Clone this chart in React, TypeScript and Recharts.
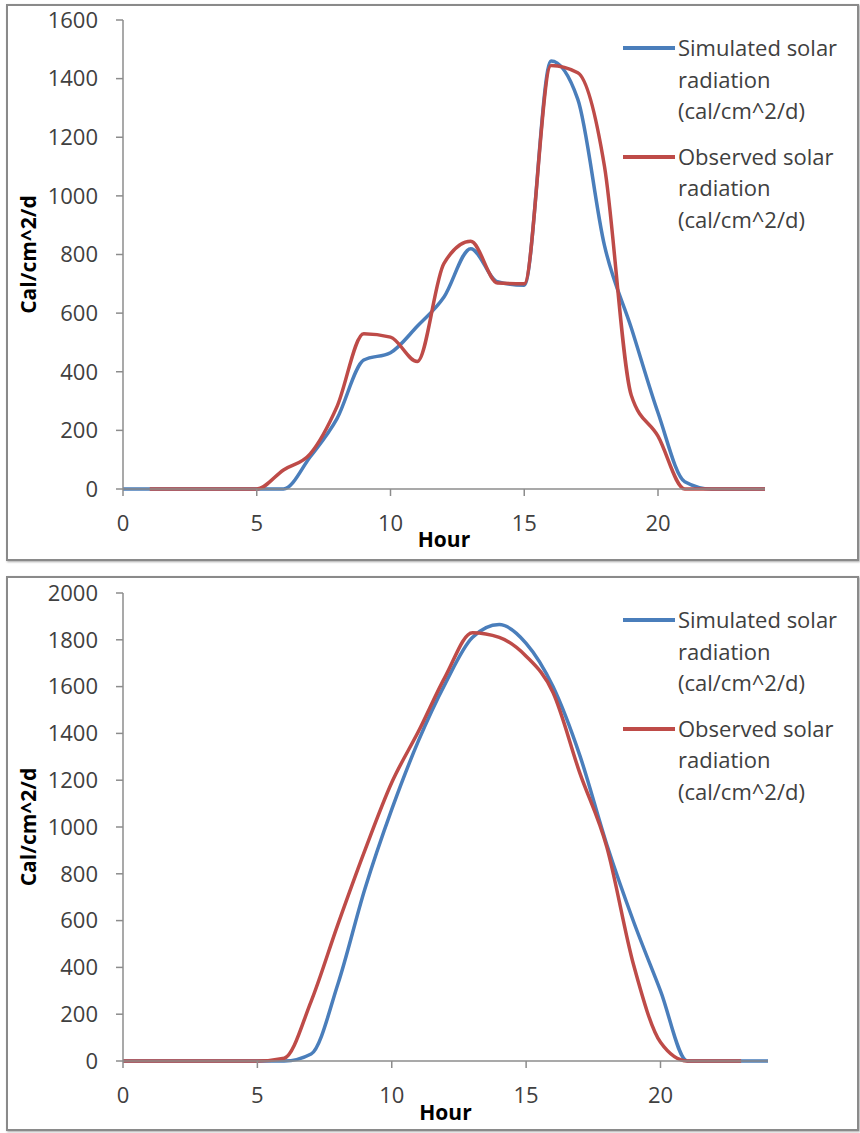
import React from 'react';
import { LineChart, Line, XAxis, YAxis, Legend } from 'recharts';

// Hours of the day
const HOURS = [0, 1, 2, 3, 4, 5, 6, 7, 8, 9, 10, 11, 12, 13, 14, 15, 16, 17, 18, 19, 20, 21, 22, 23, 24];

// Top chart (cal/cm^2/d)
const TOP_SIMULATED = [0, 0, 0, 0, 0, 0, 0, 110, 240, 440, 465, 555, 655, 820, 707, 695, 1460, 1330, 830, 550, 260, 25, 0, 0, 0];
const TOP_OBSERVED = [null, 0, 0, 0, 0, 0, 65, 120, 281, 530, 518, 435, 770, 845, 703, 700, 1445, 1420, 1100, 320, 180, 0, 0, 0, 0];

// Bottom chart (cal/cm^2/d)
const BOTTOM_SIMULATED = [0, 0, 0, 0, 0, 0, 0, 30, 330, 735, 1075, 1370, 1615, 1810, 1865, 1785, 1600, 1305, 925, 595, 300, 0, 0, 0, 0];
const BOTTOM_OBSERVED = [0, 0, 0, 0, 0, 0, 12, 255, 585, 900, 1190, 1410, 1645, 1830, 1810, 1730, 1575, 1230, 915, 410, 80, 0, 0, 0, null];

const X_TICKS = [0, 5, 10, 15, 20];
const TOP_Y_TICKS = [0, 200, 400, 600, 800, 1000, 1200, 1400, 1600];
const BOTTOM_Y_TICKS = [0, 200, 400, 600, 800, 1000, 1200, 1400, 1600, 1800, 2000];

const SERIES_NAMES = ['Simulated solar radiation (cal/cm^2/d)', 'Observed solar radiation (cal/cm^2/d)'];
const LEGEND_LINES = [
  ['Simulated solar', 'radiation', '(cal/cm^2/d)'],
  ['Observed solar', 'radiation', '(cal/cm^2/d)'],
];

const BLUE = '#4A7EBB';
const RED = '#BE4B48';
const TEXT = '#404040';
const AXIS = '#8C8C8C';
const FONT = '"Open Sans", "Noto Sans", sans-serif';

const buildRows = (sim: (number | null)[], obs: (number | null)[]) =>
  HOURS.map((h, i) => ({ h, sim: sim[i], obs: obs[i] }));

const LegendContent = () => (
  <div style={{ fontFamily: FONT, fontSize: 22, color: TEXT, lineHeight: '31.5px' }}>
    {LEGEND_LINES.map((lines, i) => (
      <div key={i} style={{ display: 'flex', alignItems: 'flex-start', marginBottom: i === 0 ? 14 : 0 }}>
        <svg width={55} height={31.5} style={{ flex: 'none' }}>
          <line x1={0} x2={52} y1={16} y2={16} stroke={i === 0 ? BLUE : RED} strokeWidth={4} />
        </svg>
        <div>
          {lines.map((t, j) => (
            <div key={j} style={{ whiteSpace: 'nowrap' }}>{t}</div>
          ))}
        </div>
      </div>
    ))}
  </div>
);

type PanelProps = {
  top: number;
  rows: any[];
  yMax: number;
  yTicks: number[];
  plotTop: number;
  xAxisHeight: number;
  rightMargin: number;
  legendTop: number;
  hourOffset: number;
};

const Panel = ({ top, rows, yMax, yTicks, plotTop, xAxisHeight, rightMargin, legendTop, hourOffset }: PanelProps) => (
  <div style={{ position: 'absolute', left: 0, top }}>
    <LineChart
      width={860}
      height={562}
      data={rows}
      margin={{ top: plotTop, right: rightMargin, bottom: 0, left: 0 }}
      style={{ fontFamily: FONT }}
    >
      <XAxis
        dataKey="h"
        type="number"
        domain={[0, 24]}
        ticks={X_TICKS}
        height={xAxisHeight}
        stroke={AXIS}
        strokeWidth={1.5}
        tickSize={7}
        tickMargin={19}
        tick={{ fill: TEXT, fontSize: 22 }}
        label={{ value: 'Hour', position: 'insideBottom', offset: hourOffset, fill: '#000', fontSize: 21, fontWeight: 700 }}
      />
      <YAxis
        type="number"
        domain={[0, yMax]}
        ticks={yTicks}
        width={123}
        stroke={AXIS}
        strokeWidth={1.5}
        tickSize={7}
        tickMargin={18}
        tick={{ fill: TEXT, fontSize: 22 }}
        label={{
          value: 'Cal/cm^2/d',
          angle: -90,
          position: 'insideLeft',
          offset: 29,
          fill: '#000',
          fontSize: 21,
          fontWeight: 700,
          style: { textAnchor: 'middle' },
        }}
      />
      <Legend
        layout="vertical"
        align="center"
        verticalAlign="middle"
        wrapperStyle={{ left: 623, top: legendTop, width: 234, height: 220 }}
        content={() => <LegendContent />}
      />
      <Line
        type="monotone"
        dataKey="sim"
        name={SERIES_NAMES[0]}
        stroke={BLUE}
        strokeWidth={3.5}
        dot={false}
        activeDot={false}
        isAnimationActive={false}
      />
      <Line
        type="monotone"
        dataKey="obs"
        name={SERIES_NAMES[1]}
        stroke={RED}
        strokeWidth={3.5}
        dot={false}
        activeDot={false}
        isAnimationActive={false}
      />
    </LineChart>
  </div>
);

export default function App() {
  return (
    <div style={{ position: 'absolute', left: 0, top: 0, width: 860, height: 1133, background: '#fff' }}>
      <div style={{ position: 'absolute', left: 6, top: 4, width: 849, height: 553, border: '2px solid #8a8a8a', boxShadow: '1px 1px 2px #aaa' }} />
      <div style={{ position: 'absolute', left: 6, top: 576, width: 849, height: 551, border: '2px solid #8a8a8a', boxShadow: '1px 1px 2px #aaa' }} />
      <Panel
        top={0}
        rows={buildRows(TOP_SIMULATED, TOP_OBSERVED)}
        yMax={1600}
        yTicks={TOP_Y_TICKS}
        plotTop={20}
        xAxisHeight={73}
        rightMargin={95}
        legendTop={32}
        hourOffset={15}
      />
      <Panel
        top={570}
        rows={buildRows(BOTTOM_SIMULATED, BOTTOM_OBSERVED)}
        yMax={2000}
        yTicks={BOTTOM_Y_TICKS}
        plotTop={23}
        xAxisHeight={71}
        rightMargin={92}
        legendTop={34}
        hourOffset={12}
      />
    </div>
  );
}
